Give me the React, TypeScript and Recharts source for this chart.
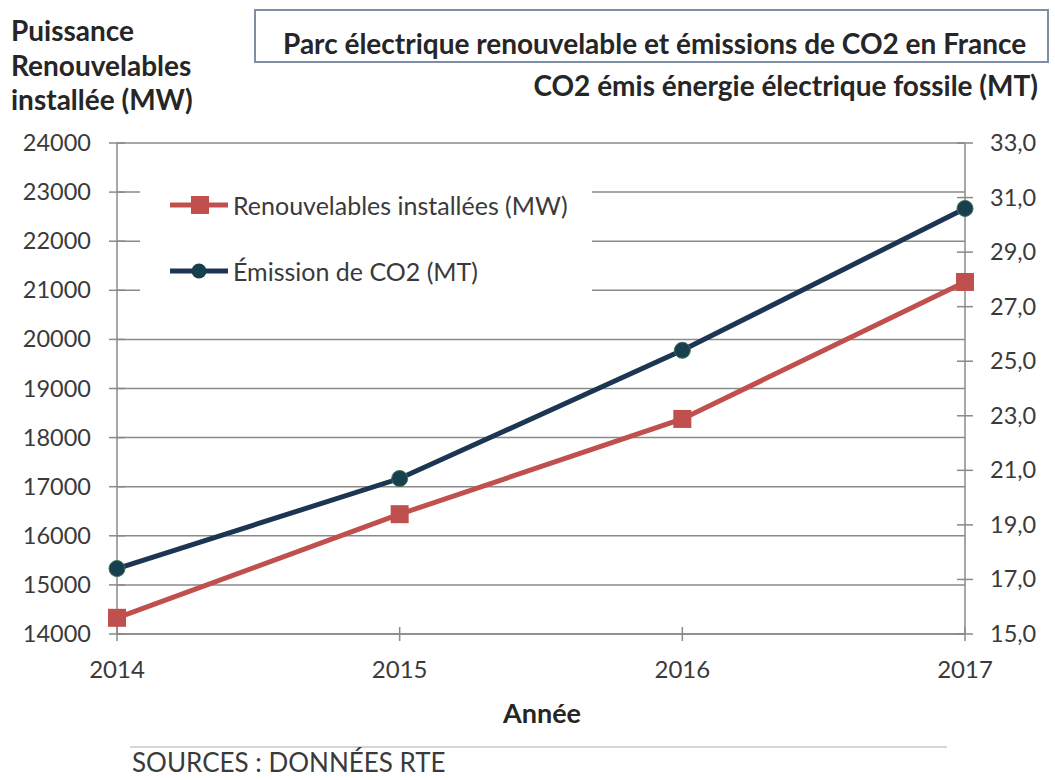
import { LineChart, Line, XAxis, YAxis, CartesianGrid } from "recharts";

const years = ["2014", "2015", "2016", "2017"];
const renouvelablesMW = [14330, 16440, 18380, 21170];
const emissionsCO2 = [17.4, 20.7, 25.4, 30.6];
const leftTicks = [14000, 15000, 16000, 17000, 18000, 19000, 20000, 21000, 22000, 23000, 24000];
const rightTicks = [15, 17, 19, 21, 23, 25, 27, 29, 31, 33];

const data = years.map((year, i) => ({
  year,
  mw: renouvelablesMW[i],
  co2: emissionsCO2[i],
}));

const FONT = "Lato, 'Open Sans', sans-serif";
const TEXT = "#3a3a3a";
const DARK = "#262626";
const AXIS = "#8a8a8a";
const RED = "#c0504d";
const NAVY = "#1c3552";
const DOT = "#17404f";

const LeftTick = ({ x, y, payload }: any) => (
  <g>
    <line x1={x - 8} x2={x + 8} y1={y} y2={y} stroke={AXIS} strokeWidth={1.5} />
    <text x={x - 26} y={y} dy={8} textAnchor="end" fill={TEXT} fontSize={23.5} fontFamily={FONT}>
      {payload.value}
    </text>
  </g>
);

const RightTick = ({ x, y, payload }: any) => (
  <g>
    <line x1={x - 8} x2={x + 8} y1={y} y2={y} stroke={AXIS} strokeWidth={1.5} />
    <text x={x + 25} y={y} dy={8} textAnchor="start" fill={TEXT} fontSize={23.5} fontFamily={FONT}>
      {Number(payload.value).toFixed(1).replace(".", ",")}
    </text>
  </g>
);

const BottomTick = ({ x, y, payload }: any) => (
  <g>
    <line x1={x} x2={x} y1={y - 7} y2={y + 7} stroke={AXIS} strokeWidth={1.5} />
    <text x={x} y={y} dy={44} textAnchor="middle" fill={TEXT} fontSize={24} fontFamily={FONT}>
      {payload.value}
    </text>
  </g>
);

const SquareDot = (props: any) => {
  const { cx, cy, index } = props;
  return <rect key={`sq-${index}`} x={cx - 9} y={cy - 9} width={18} height={18} fill={RED} />;
};

const RoundDot = (props: any) => {
  const { cx, cy, index } = props;
  return <circle key={`ci-${index}`} cx={cx} cy={cy} r={8} fill={DOT} stroke="#3f6b55" strokeWidth={1} />;
};

// legend drawn over the grid, white box hides the gridlines behind it
const LegendBox = () => (
  <div
    style={{
      position: "absolute",
      left: 140,
      top: 160,
      width: 452,
      height: 168,
      background: "#fff",
      fontFamily: FONT,
      fontSize: 25,
      color: TEXT,
    }}
  >
    <div style={{ position: "absolute", left: 30, top: 45 - 10, display: "flex", alignItems: "center", height: 20 }}>
      <svg width={60} height={20}>
        <line x1={0} x2={58} y1={10} y2={10} stroke={RED} strokeWidth={5} />
        <rect x={21} y={1} width={18} height={18} fill={RED} />
      </svg>
      <span style={{ marginLeft: 3, lineHeight: "20px" }}>Renouvelables installées (MW)</span>
    </div>
    <div style={{ position: "absolute", left: 30, top: 111 - 10, display: "flex", alignItems: "center", height: 20 }}>
      <svg width={60} height={20}>
        <line x1={0} x2={58} y1={10} y2={10} stroke={NAVY} strokeWidth={5} />
        <circle cx={29} cy={10} r={7.5} fill={DOT} />
      </svg>
      <span style={{ marginLeft: 3, lineHeight: "20px" }}>Émission de CO2 (MT)</span>
    </div>
  </div>
);

export default function App() {
  return (
    <div style={{ position: "absolute", left: 0, top: 0, width: 1055, height: 780, background: "#fff", fontFamily: FONT }}>
      <LineChart
        width={1055}
        height={780}
        data={data}
        margin={{ top: 143, right: 30, bottom: 106, left: 17 }}
      >
        <CartesianGrid yAxisId="left" vertical={false} stroke={AXIS} strokeWidth={1.5} />
        <XAxis
          dataKey="year"
          height={40}
          axisLine={{ stroke: AXIS, strokeWidth: 1.5 }}
          tickLine={false}
          tickSize={0}
          tickMargin={0}
          tick={<BottomTick />}
        />
        <YAxis
          yAxisId="left"
          width={100}
          domain={[14000, 24000]}
          ticks={leftTicks}
          axisLine={{ stroke: AXIS, strokeWidth: 1.5 }}
          tickLine={false}
          tickSize={0}
          tickMargin={0}
          tick={<LeftTick />}
        />
        <YAxis
          yAxisId="right"
          orientation="right"
          width={60}
          domain={[15, 33]}
          ticks={rightTicks}
          axisLine={{ stroke: AXIS, strokeWidth: 1.5 }}
          tickLine={false}
          tickSize={0}
          tickMargin={0}
          tick={<RightTick />}
        />
        <Line
          yAxisId="left"
          dataKey="mw"
          name="Renouvelables installées (MW)"
          stroke={RED}
          strokeWidth={5}
          dot={SquareDot}
          isAnimationActive={false}
        />
        <Line
          yAxisId="right"
          dataKey="co2"
          name="Émission de CO2 (MT)"
          stroke={NAVY}
          strokeWidth={5}
          dot={RoundDot}
          isAnimationActive={false}
        />
      </LineChart>

      <LegendBox />

      {/* titles and source note */}
      <svg width={1055} height={780} style={{ position: "absolute", left: 0, top: 0, pointerEvents: "none" }} fontFamily={FONT}>
        <rect x={255} y={10} width={793} height={52} fill="#fff" stroke="#7d8ea2" strokeWidth={2} />
        <text x={283} y={54} fontSize={28} fontWeight={700} fill={DARK}>
          Parc électrique renouvelable et émissions de CO2 en France
        </text>
        <text x={11} fontSize={28} fontWeight={700} fill={DARK}>
          <tspan x={11} y={41}>Puissance</tspan>
          <tspan x={11} y={76}>Renouvelables</tspan>
          <tspan x={11} y={110}>installée (MW)</tspan>
        </text>
        <text x={1038} y={96} textAnchor="end" fontSize={28} fontWeight={700} fill={DARK}>
          CO2 émis énergie électrique fossile (MT)
        </text>
        <text x={542} y={723} textAnchor="middle" fontSize={27} fontWeight={700} fill={DARK}>
          Année
        </text>
        <line x1={130} x2={947} y1={747} y2={747} stroke="#c8c8c8" strokeWidth={1.5} />
        <text x={132} y={772} fontSize={26} fill={TEXT}>
          SOURCES : DONNÉES RTE
        </text>
      </svg>
    </div>
  );
}
